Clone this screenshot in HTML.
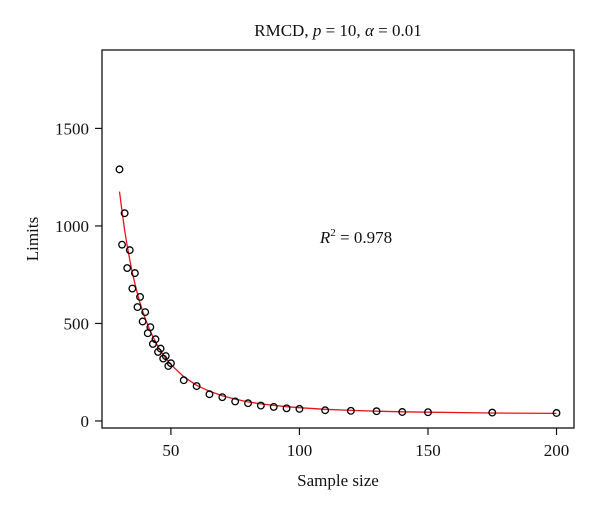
<!DOCTYPE html>
<html><head><meta charset="utf-8"><style>
body{margin:0;background:#fff}
svg text{font-family:"Liberation Serif",serif;fill:#111}
</style></head><body>
<svg id="chart" width="600" height="511" xmlns="http://www.w3.org/2000/svg">
<text x="338" y="36" font-size="17" text-anchor="middle">RMCD, <tspan font-style="italic">p</tspan> = 10, <tspan font-style="italic">α</tspan> = 0.01</text>
<rect x="102" y="50" width="472" height="378" fill="none" stroke="#111" stroke-width="1.3"/>
<g id="xaxis"></g>
<g id="yaxis"></g>
<g id="fit"></g>
<g id="pts"></g>
<text x="356" y="243" font-size="17" text-anchor="middle"><tspan font-style="italic">R</tspan><tspan dy="-7" font-size="11">2</tspan><tspan dy="7"> = 0.978</tspan></text>
<text x="338" y="486" font-size="17" text-anchor="middle">Sample size</text>
<text x="38" y="239" font-size="17" text-anchor="middle" transform="rotate(-90 38 239)">Limits</text>
</svg>
<script>
const sampleSizes=[30,31,32,33,34,35,36,37,38,39,40,41,42,43,44,45,46,47,48,49,50,55,60,65,70,75,80,85,90,95,100,110,120,130,140,150,175,200];
const limitValues=[1290,904,1065,784,876,679,758,584,636,510,558,450,481,395,419,354,371,320,333,282,296,209,179,137,122,100,91,79,72,65,62,55,52,50,46,45,43,41];
const fitValues=[1176,1072,980,898,826,762,704,652,606,564,526,492,460,432,406,382,360,340,322,305,289,227,183,152,129,112,98,88,80,73,68,60,54,50,47,45,41,39];
const xTicks=[50,100,150,200];
const yTicks=[0,500,1000,1500];
const NS="http://www.w3.org/2000/svg";
const L=102,R=574,T=50,B=428;
const xMin=23.2,xMax=206.8,yMin=-36,yMax=1902;
function sx(n){return L+(n-xMin)/(xMax-xMin)*(R-L);}
function sy(v){return B-(v-yMin)/(yMax-yMin)*(B-T);}
function mk(tag,attrs,parent){const e=document.createElementNS(NS,tag);for(const k in attrs)e.setAttribute(k,attrs[k]);parent.appendChild(e);return e;}
const xa=document.getElementById('xaxis'),ya=document.getElementById('yaxis');
xTicks.forEach(t=>{
  const l=mk('line',{x1:sx(t),x2:sx(t),y1:B,y2:B+7,stroke:'#111','stroke-width':1.2},xa);
  
  
  const tx=mk('text',{x:sx(t),y:B+28,'font-size':17,'text-anchor':'middle'},xa);
  tx.textContent=t;
  
  
});
yTicks.forEach(t=>{
  const l=mk('line',{x1:L-7,x2:L,y1:sy(t),y2:sy(t),stroke:'#111','stroke-width':1.2},ya);
  
  
  const tx=mk('text',{x:L-13,y:sy(t)+6,'font-size':17,'text-anchor':'end'},ya);
  tx.textContent=t;
  
  
});
const fg=document.getElementById('fit');
const p=mk('polyline',{points:sampleSizes.map((n,i)=>sx(n).toFixed(1)+','+sy(fitValues[i]).toFixed(1)).join(' '),fill:'none',stroke:'#e8141c','stroke-width':1.3},fg);


const pg=document.getElementById('pts');
sampleSizes.forEach((n,i)=>{
  const c=mk('circle',{cx:sx(n),cy:sy(limitValues[i]),r:3.3,fill:'none',stroke:'#000','stroke-width':1.3},pg);
  
  
});
</script>
</body></html>
